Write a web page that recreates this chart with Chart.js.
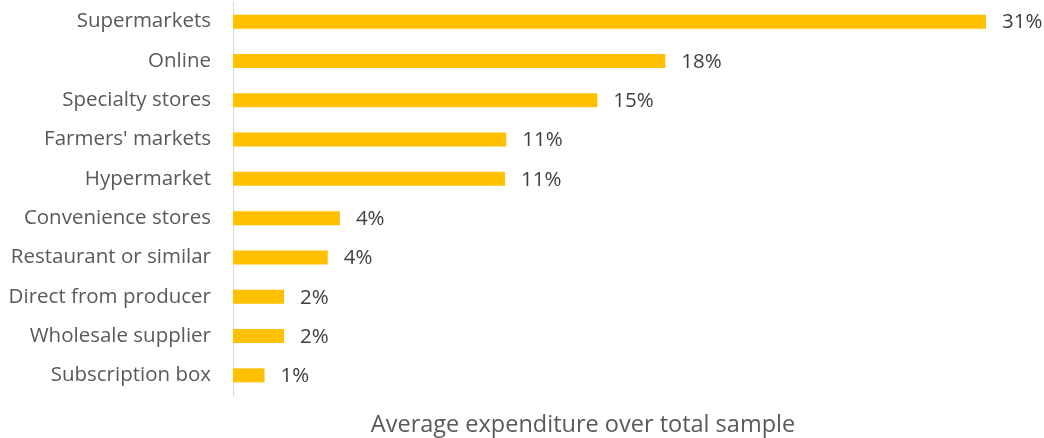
<!DOCTYPE html>
<html>
<head>
<meta charset="utf-8">
<script src="https://cdn.jsdelivr.net/npm/chart.js@4/dist/chart.umd.min.js"></script>
<style>
  html, body { margin: 0; padding: 0; background: #fff; }
  #wrap { width: 1044px; height: 438px; position: relative; }
</style>
</head>
<body>
<div id="wrap"><canvas id="c"></canvas></div>
<script>
"use strict";

// Channel share of average expenditure, horizontal bars with value labels.
const categories = [
  "Supermarkets", "Online", "Specialty stores", "Farmers' markets", "Hypermarket",
  "Convenience stores", "Restaurant or similar", "Direct from producer",
  "Wholesale supplier", "Subscription box"
];
const shares = [31, 17.8, 15.0, 11.25, 11.2, 4.4, 3.9, 2.1, 2.1, 1.3];
const axisTitle = "Average expenditure over total sample";

const FONT = "'Open Sans', sans-serif";

// draw "NN%" just past the end of each bar, plus the caption under the plot
const valueLabels = {
  id: "valueLabels",
  afterDatasetsDraw(chart) {
    const { ctx } = chart;
    const meta = chart.getDatasetMeta(0);
    ctx.save();
    ctx.font = "20.5px " + FONT;
    ctx.fillStyle = "#404040";
    ctx.textAlign = "left";
    ctx.textBaseline = "middle";
    meta.data.forEach((bar, i) => {
      ctx.fillText(Math.round(shares[i]) + "%", bar.x + 16, bar.y + 1);
    });
    ctx.font = "23.5px " + FONT;
    ctx.fillStyle = "#595959";
    ctx.textAlign = "center";
    ctx.fillText(axisTitle, 583, 425);
    ctx.restore();
  }
};

new Chart(document.getElementById("c"), {
  type: "bar",
  data: {
    labels: categories,
    datasets: [{
      data: shares,
      backgroundColor: "#ffc000",
      barPercentage: 0.356,
      categoryPercentage: 1.0,
    }]
  },
  options: {
    indexAxis: "y",
    responsive: true, maintainAspectRatio: false,
    animation: false,
    layout: { padding: { top: 2, right: 58, left: 0, bottom: 43 } },
    plugins: {
      legend: { display: false },
      tooltip: { enabled: false },
      title: { display: false },
    },
    scales: {
      x: { display: false, min: 0, max: 31 },
      y: {
        grid: { display: false, drawTicks: false },
        border: { color: "#d9d9d9", width: 1 },
        ticks: { color: "#595959", font: { family: FONT, size: 20.5 }, padding: 22 },
        // fixed label column; drop the vertical padding that tick padding adds
        afterFit(s) { s.width = 233; s.paddingTop = 0; s.paddingBottom = 0; },
      },
    },
  },
  plugins: [valueLabels],
});
</script>
</body>
</html>
